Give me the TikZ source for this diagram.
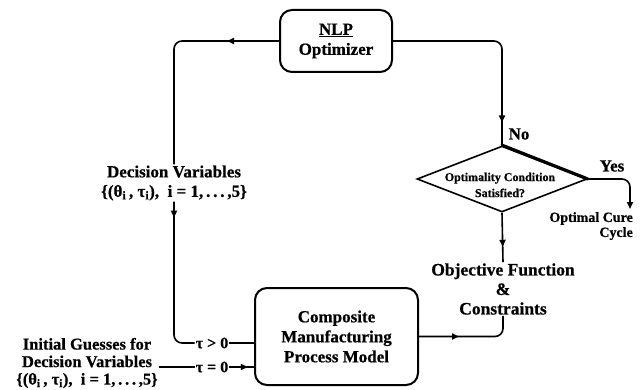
\documentclass[tikz,border=0pt]{standalone}
\usepackage{fontspec}
\setmainfont{Liberation Serif}[BoldFeatures={FakeBold=0.6}]
\usetikzlibrary{arrows.meta,shapes.geometric,decorations.markings}
\newcommand{\dvset}{\{(θ\textsubscript{i}\,, τ\textsubscript{i}), \ i = 1,\,.\,.\,.\,,5\}}
\begin{document}
\begin{tikzpicture}[x=1pt,y=-1pt,
  lbl/.style={align=center, inner sep=1pt, font=\bfseries\fontsize{17}{19.5}\selectfont},
  box/.style={draw, line width=2pt, rounded corners=12pt, align=center, font=\bfseries\fontsize{17}{20}\selectfont},
  conn/.style={line width=1.6pt, rounded corners=8pt},
  tip/.style={postaction={decorate}, decoration={markings, mark=at position #1 with {\arrow{Triangle[length=7pt,width=6pt]}}}},
  small/.style={inner sep=1pt, font=\bfseries\fontsize{16}{17}\selectfont}
]
\fill[white] (0,0) rectangle (642,390);
\useasboundingbox (0,0) rectangle (642,390);

% nodes
\node[box, minimum width=112pt, minimum height=62pt] (nlp) at (336,41) {\underline{NLP}\\Optimizer};
\node[box, minimum width=163pt, minimum height=97pt] (comp) at (336.5,336.5) {Composite\\Manufacturing\\Process Model};
\node[diamond, draw, line width=1.6pt, minimum width=170pt, minimum height=66pt, inner sep=0pt] (dia) at (502,179) {};
\draw[line width=3.2pt, line cap=round] (dia.north) -- (dia.east);
\node[align=center, inner sep=0pt, font=\bfseries\fontsize{12}{16}\selectfont] (diat) at (500,185) {Optimality Condition\\Satisfied?};

\node[lbl] (dv) at (174,183) {Decision Variables\\\dvset};
\node[lbl, font=\bfseries\fontsize{17.5}{19.5}\selectfont] (obj) at (503,289) {Objective Function\\\&\\Constraints};
\node[lbl, font=\bfseries\fontsize{16.5}{17.5}\selectfont] (ig) at (87,363) {Initial Guesses for\\Decision Variables\\\dvset};
\node[small] (tgt) at (212,343) {τ > 0};
\node[small] (teq) at (212,367) {τ = 0};
\node[small, font=\bfseries\fontsize{17}{18}\selectfont] (no) at (519,134) {No};
\node[small, font=\bfseries\fontsize{17}{18}\selectfont] (yes) at (612,166) {Yes};
\node[small, anchor=north east, align=right, font=\bfseries\fontsize{14}{15}\selectfont] (opt) at (634,211) {Optimal Cure\\Cycle};
\coordinate (yesend) at (630,209);

% connectors
\draw[conn, tip=52pt] (nlp.west) -| (dv.north);
\draw[conn, tip=16pt] (dv.south) |- (tgt.west);
\draw[conn] (tgt.east) -- (comp.west |- tgt.east);
\draw[conn] (ig.east |- teq.west) -- (teq.west);
\draw[conn, tip=0.75] (teq.east) -- (comp.west |- teq.east);
\draw[conn, tip=40pt] (comp.east) -| (obj.south);
\draw[conn, tip=34pt] (dia.south) -- (obj.north);
\draw[conn, tip=187pt] (nlp.east) -| (dia.north);
\draw[conn, -{Triangle[length=7pt,width=6pt]}] (dia.east) -| (yesend);
\end{tikzpicture}
\end{document}
